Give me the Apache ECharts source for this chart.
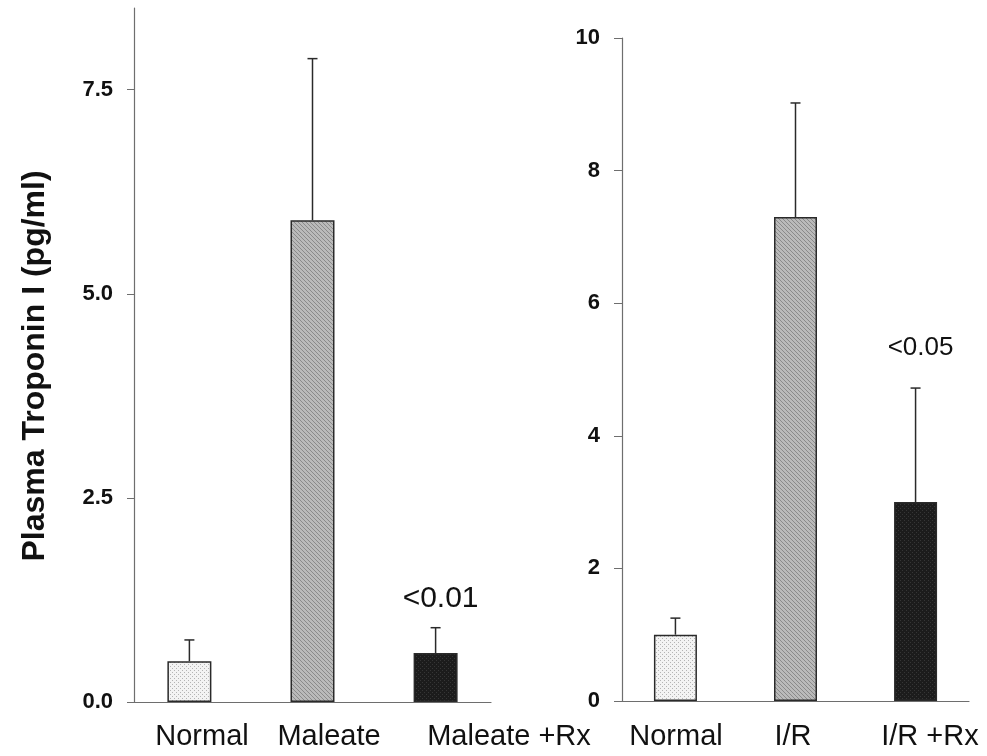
<!DOCTYPE html>
<html>
<head>
<meta charset="utf-8">
<script src="https://cdn.jsdelivr.net/npm/echarts@6/dist/echarts.min.js"></script>
<style>html,body{margin:0;padding:0;background:#fff}#c{width:987px;height:756px}</style>
</head>
<body>
<div id="c"></div>
<script>
// ---- data ----
const leftCategories = ['Normal', 'Maleate', 'Maleate +Rx'];
const leftMeans = [0.5, 5.9, 0.6];
const leftErrors = [0.26, 1.98, 0.31];
const leftNotes = ['', '', '<0.01'];
const leftNoteY = [0, 0, 1.27];
const leftTicks = [0, 2.5, 5, 7.5];

const rightCategories = ['Normal', 'I/R', 'I/R +Rx'];
const rightMeans = [1.0, 7.3, 3.0];
const rightErrors = [0.25, 1.72, 1.72];
const rightNotes = ['', '', '<0.05'];
const rightNoteY = [0, 0, 5.33];

const yTitle = 'Plasma Troponin I (pg/ml)';
const FONT = "'Liberation Sans', Arial, Helvetica, sans-serif";

// ---- fill patterns ----
function makePattern(kind) {
  const c = document.createElement('canvas');
  c.width = 4; c.height = 4;
  const g = c.getContext('2d');
  if (kind === 'dots') {
    g.fillStyle = '#f3f3f3'; g.fillRect(0, 0, 4, 4);
    g.fillStyle = '#b4b4b4';
    g.fillRect(0, 0, 1, 1); g.fillRect(2, 2, 1, 1);
  } else if (kind === 'hatch') {
    g.fillStyle = '#bababa'; g.fillRect(0, 0, 4, 4);
    g.fillStyle = '#8a8a8a';
    for (let i = 0; i < 4; i++) g.fillRect(i, i, 1, 1);
  } else {
    g.fillStyle = '#1c1c1c'; g.fillRect(0, 0, 4, 4);
    g.fillStyle = '#363636';
    g.fillRect(0, 0, 1, 1); g.fillRect(2, 2, 1, 1);
  }
  return { image: c, repeat: 'repeat' };
}
const fills = [makePattern('dots'), makePattern('hatch'), makePattern('dark')];

const chart = echarts.init(document.getElementById('c'), null, { renderer: 'canvas' });

function barData(means) {
  return means.map((v, i) => ({
    value: [i, v],
    itemStyle: { color: fills[i], borderColor: '#2a2a2a', borderWidth: 1.5 }
  }));
}
function errData(means, errs, notes, noteY) {
  return means.map((v, i) => [i, v, v + errs[i], noteY[i], notes[i]]);
}
function renderErr(noteSize) {
  return function (params, api) {
    const x = api.value(0);
    const p0 = api.coord([x, api.value(1)]);
    const p1 = api.coord([x, api.value(2)]);
    const children = [
      { type: 'line', shape: { x1: p0[0], y1: p0[1], x2: p1[0], y2: p1[1] }, style: { stroke: '#2a2a2a', lineWidth: 1.5 } },
      { type: 'line', shape: { x1: p1[0] - 5, y1: p1[1], x2: p1[0] + 5, y2: p1[1] }, style: { stroke: '#2a2a2a', lineWidth: 1.5 } }
    ];
    const note = api.value(4);
    if (note) {
      const pn = api.coord([x, api.value(3)]);
      children.push({ type: 'text', x: pn[0] + 5, y: pn[1],
        style: { text: note, fill: '#111', font: noteSize + 'px ' + FONT, align: 'center', verticalAlign: 'middle' } });
    }
    return { type: 'group', children: children };
  };
}

const axisCommonX = {
  type: 'value',
  axisLine: { show: true, onZero: false, lineStyle: { color: '#6e6e6e', width: 1.2 } },
  axisTick: { show: false }, axisLabel: { show: false }, splitLine: { show: false }
};
const yLabelStyle = { color: '#111', fontSize: 22, fontWeight: 'bold', fontFamily: FONT };

function xLabelGraphics(cats, centers) {
  return cats.map((t, i) => ({
    type: 'text', x: centers[i], y: 737,
    style: { text: t, font: '29px ' + FONT, fill: '#111', align: 'center', verticalAlign: 'middle' }
  }));
}

chart.setOption({
  animation: false,
  backgroundColor: '#fff',
  grid: [
    { left: 134, right: 496, top: 8, bottom: 54 },
    { left: 622, right: 18, top: 38, bottom: 55 }
  ],
  xAxis: [
    Object.assign({ gridIndex: 0, min: -0.45, max: 2.45 }, axisCommonX),
    Object.assign({ gridIndex: 1, min: -0.445, max: 2.445 }, axisCommonX)
  ],
  yAxis: [
    {
      gridIndex: 0, type: 'value', min: 0, max: 8.5,
      axisLine: { show: true, onZero: false, lineStyle: { color: '#6e6e6e', width: 1.2 } },
      axisTick: { show: true, length: 7, customValues: leftTicks, lineStyle: { color: '#6e6e6e' } },
      axisLabel: Object.assign({ margin: 21, customValues: leftTicks, formatter: v => v.toFixed(1) }, yLabelStyle),
      splitLine: { show: false }
    },
    {
      gridIndex: 1, type: 'value', min: 0, max: 10, interval: 2,
      axisLine: { show: true, onZero: false, lineStyle: { color: '#6e6e6e', width: 1.2 } },
      axisTick: { show: true, length: 8, lineStyle: { color: '#6e6e6e' } },
      axisLabel: Object.assign({ margin: 22 }, yLabelStyle),
      splitLine: { show: false }
    }
  ],
  series: [
    { type: 'bar', xAxisIndex: 0, yAxisIndex: 0, barWidth: 44, data: barData(leftMeans) },
    { type: 'custom', xAxisIndex: 0, yAxisIndex: 0, renderItem: renderErr(30), data: errData(leftMeans, leftErrors, leftNotes, leftNoteY), z: 3 },
    { type: 'bar', xAxisIndex: 1, yAxisIndex: 1, barWidth: 43, data: barData(rightMeans) },
    { type: 'custom', xAxisIndex: 1, yAxisIndex: 1, renderItem: renderErr(26), data: errData(rightMeans, rightErrors, rightNotes, rightNoteY), z: 3 }
  ],
  graphic: [
    { type: 'text', x: 19, y: 366, rotation: Math.PI / 2, originX: 0, originY: 0,
      style: { text: yTitle, font: 'bold 32px ' + FONT, fill: '#111', align: 'center', verticalAlign: 'top' } }
  ].concat(xLabelGraphics(leftCategories, [202, 329, 509]))
   .concat(xLabelGraphics(rightCategories, [676, 793, 930]))
});
</script>
</body>
</html>
